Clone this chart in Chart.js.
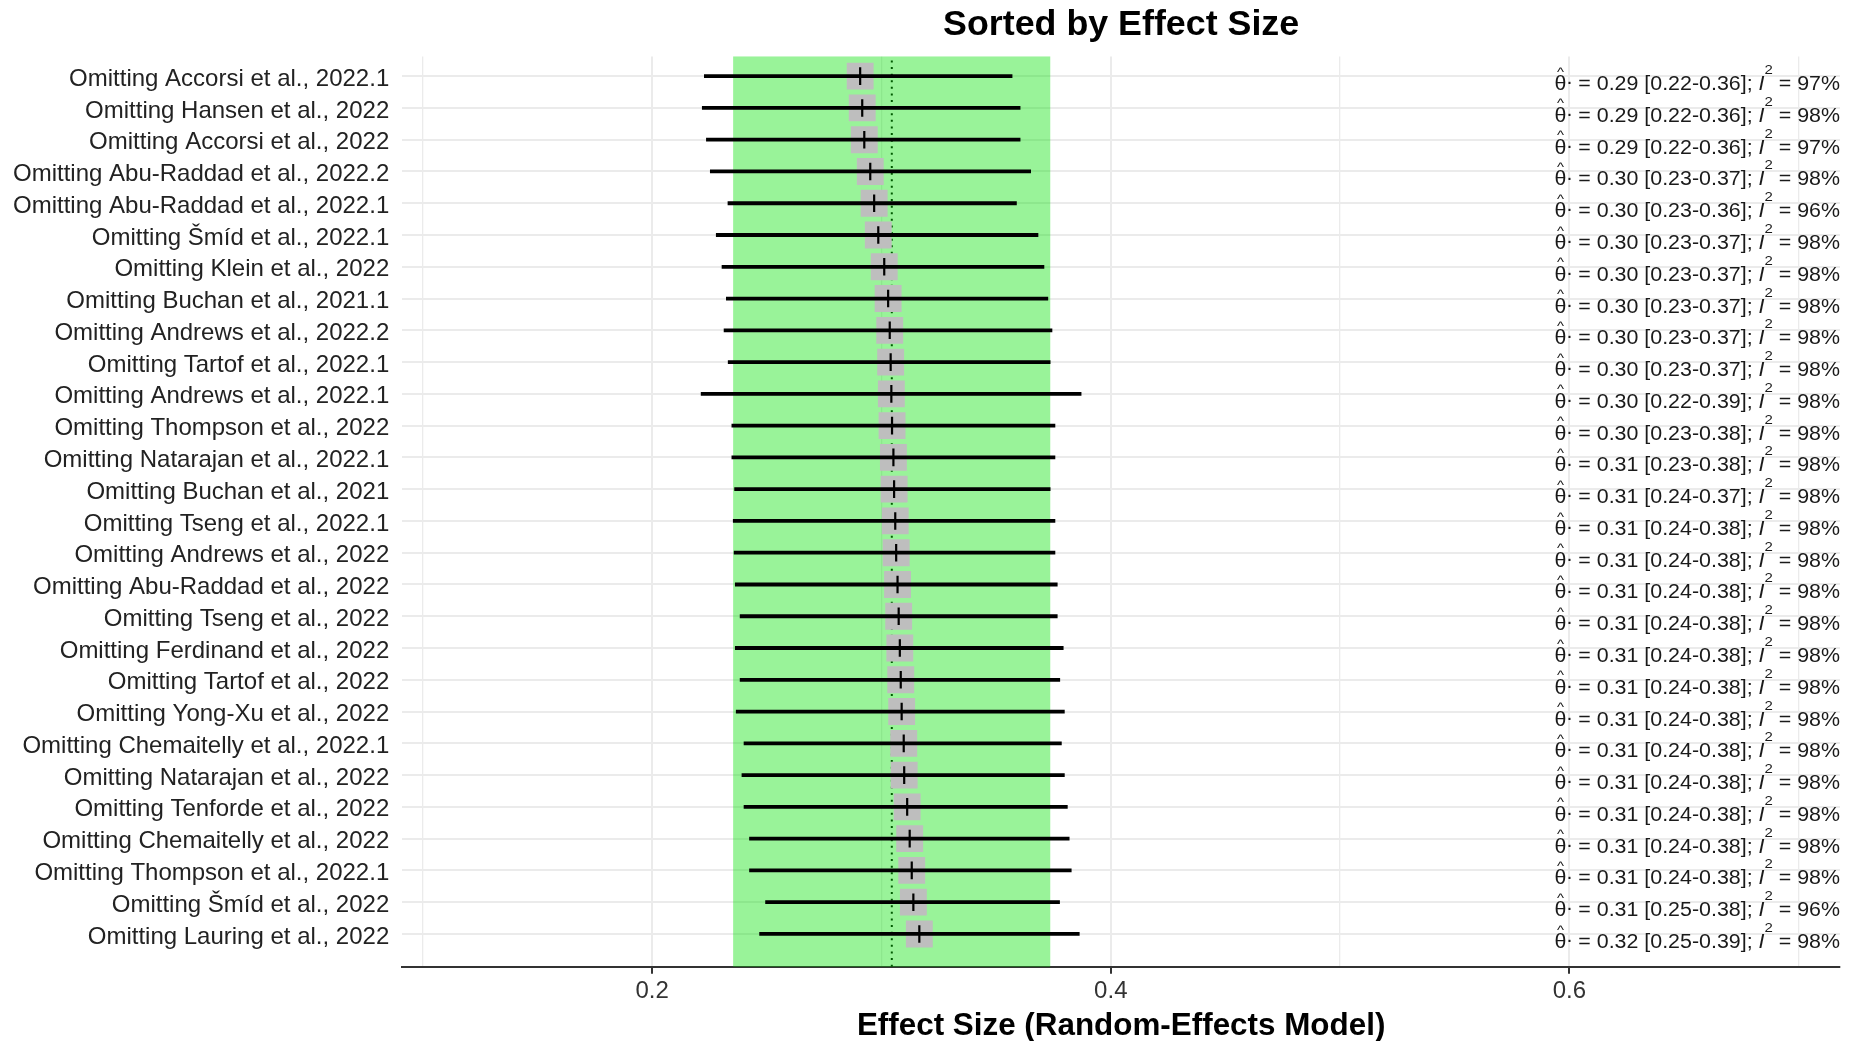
<!DOCTYPE html>
<html>
<head>
<meta charset="utf-8">
<script src="https://cdn.jsdelivr.net/npm/chart.js@4/dist/chart.umd.min.js"></script>
<style>
  html, body { margin: 0; padding: 0; background: #ffffff; }
  #wrap { width: 1859px; height: 1041px; }
</style>
</head>
<body>
<div id="wrap"><canvas id="c" width="1859" height="1041"></canvas></div>
<script>
// ---------------- data ----------------
const rowLabels = [
  "Omitting Accorsi et al., 2022.1",
  "Omitting Hansen et al., 2022",
  "Omitting Accorsi et al., 2022",
  "Omitting Abu-Raddad et al., 2022.2",
  "Omitting Abu-Raddad et al., 2022.1",
  "Omitting Šmíd et al., 2022.1",
  "Omitting Klein et al., 2022",
  "Omitting Buchan et al., 2021.1",
  "Omitting Andrews et al., 2022.2",
  "Omitting Tartof et al., 2022.1",
  "Omitting Andrews et al., 2022.1",
  "Omitting Thompson et al., 2022",
  "Omitting Natarajan et al., 2022.1",
  "Omitting Buchan et al., 2021",
  "Omitting Tseng et al., 2022.1",
  "Omitting Andrews et al., 2022",
  "Omitting Abu-Raddad et al., 2022",
  "Omitting Tseng et al., 2022",
  "Omitting Ferdinand et al., 2022",
  "Omitting Tartof et al., 2022",
  "Omitting Yong-Xu et al., 2022",
  "Omitting Chemaitelly et al., 2022.1",
  "Omitting Natarajan et al., 2022",
  "Omitting Tenforde et al., 2022",
  "Omitting Chemaitelly et al., 2022",
  "Omitting Thompson et al., 2022.1",
  "Omitting Šmíd et al., 2022",
  "Omitting Lauring et al., 2022"
];
const estimates = [0.2907, 0.2916, 0.2925, 0.2951, 0.2968, 0.2986, 0.3012, 0.3029, 0.3036, 0.3040,
                   0.3043, 0.3046, 0.3052, 0.3055, 0.3060, 0.3064, 0.3070, 0.3075, 0.3080, 0.3084,
                   0.3088, 0.3097, 0.3099, 0.3112, 0.3123, 0.3132, 0.3139, 0.3165];
const ciLower   = [0.2226, 0.2217, 0.2235, 0.2252, 0.2329, 0.2278, 0.2303, 0.2322, 0.2312, 0.2330,
                   0.2212, 0.2346, 0.2346, 0.2358, 0.2352, 0.2356, 0.2361, 0.2382, 0.2361, 0.2382,
                   0.2365, 0.2399, 0.2390, 0.2399, 0.2423, 0.2423, 0.2493, 0.2467];
const ciUpper   = [0.3571, 0.3606, 0.3606, 0.3652, 0.3590, 0.3684, 0.3710, 0.3727, 0.3745, 0.3737,
                   0.3872, 0.3758, 0.3758, 0.3737, 0.3758, 0.3758, 0.3768, 0.3768, 0.3794, 0.3779,
                   0.3799, 0.3786, 0.3799, 0.3812, 0.3820, 0.3829, 0.3778, 0.3864];
const i2Values  = [97, 98, 97, 98, 96, 98, 98, 98, 98, 98, 98, 98, 98, 98, 98, 98, 98, 98, 98, 98,
                   98, 98, 98, 98, 98, 98, 96, 98];
const pooledEstimate = 0.3045;
const pooledBand = [0.2353, 0.3736];
const xGridValues = [0.1, 0.2, 0.3, 0.4, 0.5, 0.6, 0.7];
const xTickLabels = ["", "0.2", "", "0.4", "", "0.6", ""];
const titleText = "Sorted by Effect Size";
const xTitleText = "Effect Size (Random-Effects Model)";

// ---------------- styling / plugins ----------------
const FAM = "'Liberation Sans', Arial, Helvetica, sans-serif";
Chart.defaults.font.family = FAM;

const bandPlugin = {
  id: 'band',
  beforeDatasetsDraw(chart) {
    const { ctx, chartArea, scales: { x } } = chart;
    const x1 = x.getPixelForValue(pooledBand[0]);
    const x2 = x.getPixelForValue(pooledBand[1]);
    ctx.save();
    ctx.fillStyle = 'rgba(0, 225, 0, 0.4)';
    ctx.fillRect(x1, chartArea.top, x2 - x1, chartArea.bottom - chartArea.top);
    const xp = x.getPixelForValue(pooledEstimate);
    ctx.strokeStyle = '#005a00';
    ctx.lineWidth = 2;
    ctx.setLineDash([2, 4.6]);
    ctx.lineCap = 'butt';
    ctx.beginPath();
    ctx.moveTo(xp, chartArea.top + 4);
    ctx.lineTo(xp, chartArea.bottom);
    ctx.stroke();
    ctx.restore();
  }
};

const annotX = 0.5935;
const annotPlugin = {
  id: 'annot',
  afterDatasetsDraw(chart) {
    const { ctx, chartArea, scales: { x, y } } = chart;
    const f = 19.5;
    const x0 = x.getPixelForValue(annotX);
    const xEnd = chartArea.right;
    ctx.save();
    ctx.fillStyle = '#1a1a1a';
    ctx.textBaseline = 'alphabetic';
    ctx.textAlign = 'left';
    rowLabels.forEach((_, i) => {
      const b = y.getPixelForValue(i) + 14;
      const pieces = [
        { t: 'θ', font: `${f}px ${FAM}`, dy: 0, hat: true },
        { t: '.', font: `${f}px ${FAM}`, dy: -0.3 * f },
        { t: ' = ' + estimates[i].toFixed(2) + ' [' + ciLower[i].toFixed(2) + '-' + ciUpper[i].toFixed(2) + ']; ', font: `${f}px ${FAM}`, dy: 0 },
        { t: 'I', font: `italic ${f}px ${FAM}`, dy: 0 },
        { t: '2', font: `${(0.7 * f).toFixed(2)}px ${FAM}`, dy: -0.82 * f },
        { t: ' = ' + i2Values[i] + '%', font: `${f}px ${FAM}`, dy: 0 }
      ];
      let total = 0;
      pieces.forEach(p => { ctx.font = p.font; p.w = ctx.measureText(p.t).width; total += p.w; });
      const sx = (xEnd - x0) / total;
      ctx.save();
      ctx.translate(x0, b);
      ctx.scale(sx, 1);
      let cx = 0;
      pieces.forEach(p => {
        ctx.font = p.font;
        ctx.fillText(p.t, cx, p.dy);
        if (p.hat) {
          ctx.font = `${(0.7 * f).toFixed(2)}px ${FAM}`;
          ctx.textAlign = 'center';
          ctx.fillText('^', cx + p.w / 2, -0.74 * f);
          ctx.textAlign = 'left';
        }
        cx += p.w;
      });
      ctx.restore();
    });
    ctx.restore();
  }
};

// ---------------- datasets ----------------
const boxData = estimates.map((v, i) => ({ x: v, y: i }));
const ciData = [];
rowLabels.forEach((_, i) => {
  ciData.push({ x: ciLower[i], y: i });
  ciData.push({ x: ciUpper[i], y: i });
  ciData.push({ x: ciUpper[i], y: null });
});

const isLabelled = (idx) => xTickLabels[idx] !== '';

new Chart(document.getElementById('c'), {
  type: 'scatter',
  data: {
    datasets: [
      {
        label: 'box',
        data: boxData,
        order: 3,
        pointStyle: 'rect',
        pointRadius: 19,
        pointBackgroundColor: '#BEBEBE',
        pointBorderWidth: 0,
        pointBorderColor: 'rgba(0,0,0,0)'
      },
      {
        label: 'ci',
        data: ciData,
        order: 2,
        showLine: true,
        spanGaps: false,
        borderColor: '#000000',
        borderWidth: 3.8,
        borderCapStyle: 'butt',
        pointRadius: 0,
        tension: 0
      },
      {
        label: 'est',
        data: boxData,
        order: 1,
        pointStyle: 'line',
        pointRadius: 8.8,
        pointRotation: 90,
        pointBorderWidth: 2.2,
        pointBorderColor: '#000000',
        pointBackgroundColor: '#000000'
      }
    ]
  },
  options: {
    responsive: false,
    devicePixelRatio: 1,
    animation: false,
    events: [],
    layout: { padding: { left: 0, right: 5, top: 0, bottom: 0 } },
    plugins: {
      legend: { display: false },
      tooltip: { enabled: false },
      title: {
        display: true,
        text: titleText,
        fullSize: false,
        color: '#000000',
        font: { size: 35.8, weight: 'bold', family: FAM },
        padding: { top: 4, bottom: 9.5 }
      }
    },
    scales: {
      x: {
        type: 'linear',
        min: 0.091,
        max: 0.718,
        afterBuildTicks: (scale) => { scale.ticks = xGridValues.map(v => ({ value: v })); },
        ticks: {
          callback: (v, idx) => xTickLabels[idx],
          color: '#333333',
          font: { size: 24, family: FAM, lineHeight: 1.0 },
          padding: 6,
          maxRotation: 0,
          autoSkip: false
        },
        grid: {
          color: (c) => '#EBEBEB',
          lineWidth: (c) => (isLabelled(c.index) ? 2 : 1.3),
          drawTicks: true,
          tickLength: 7,
          tickWidth: 2,
          tickColor: (c) => (isLabelled(c.index) ? '#333333' : 'rgba(0,0,0,0)')
        },
        border: { display: true, color: '#333333', width: 2 },
        title: {
          display: true,
          text: xTitleText,
          color: '#000000',
          font: { size: 31.4, weight: 'bold', family: FAM, lineHeight: 0.95 },
          padding: { top: 1.5, bottom: 0 }
        }
      },
      y: {
        type: 'linear',
        reverse: true,
        min: -0.62,
        max: 28.03,
        afterBuildTicks: (scale) => { scale.ticks = rowLabels.map((_, i) => ({ value: i })); },
        ticks: {
          callback: (v, idx) => rowLabels[idx],
          color: '#222222',
          font: { size: 24, family: FAM },
          padding: 13,
          labelOffset: 3,
          autoSkip: false
        },
        grid: {
          color: '#EBEBEB',
          lineWidth: 2,
          drawTicks: false
        },
        border: { display: false }
      }
    }
  },
  plugins: [bandPlugin, annotPlugin]
});
</script>
</body>
</html>
